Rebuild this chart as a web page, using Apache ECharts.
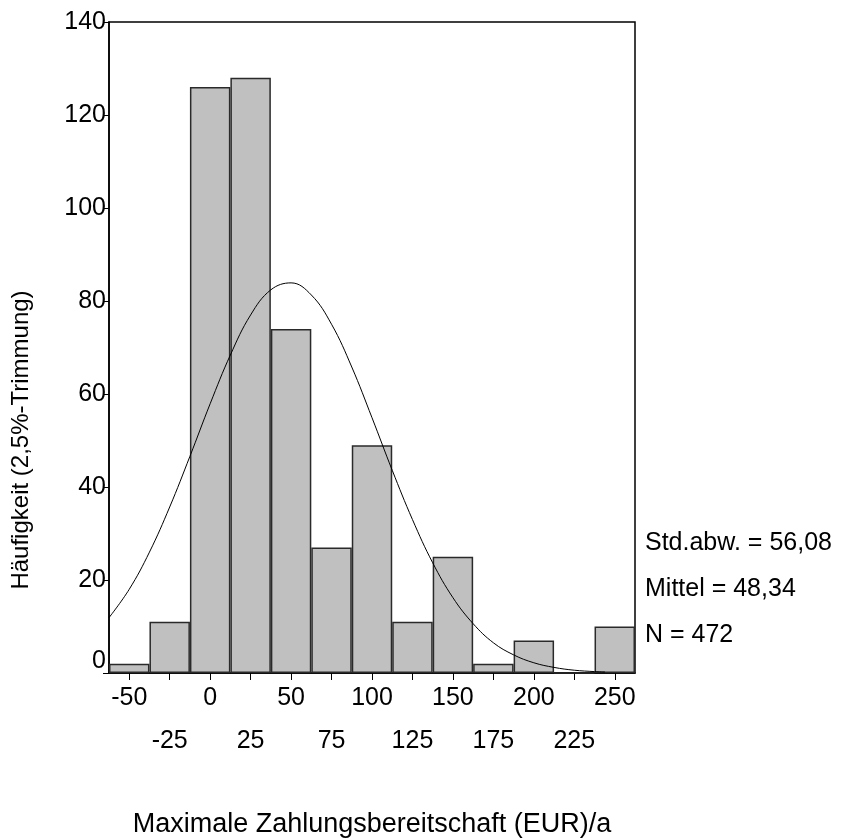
<!DOCTYPE html>
<html><head><meta charset="utf-8">
<script src="https://cdn.jsdelivr.net/npm/echarts@6/dist/echarts.min.js"></script>
<style>html,body{margin:0;padding:0;background:#fff}#c{width:847px;height:839px}</style>
</head><body><div id="c"></div>
<script>
const categories = ['-50','-25','0','25','50','75','100','125','150','175','200','225','250'];
const counts = [2, 11, 126, 128, 74, 27, 49, 11, 25, 2, 7, 0, 10];
const curveX = [-62.5,-50,-37.5,-25,-12.5,0,12.5,25,37.5,50,62.5,75,87.5,100,112.5,125,137.5,150,162.5,175,187.5,200,212.5,225,237.5,244];
const curveY = [11.9,18.0,26.0,35.7,46.6,57.9,68.4,77.0,82.4,83.9,81.3,75.0,65.8,54.9,43.6,33.0,23.7,16.2,10.6,6.5,3.9,2.2,1.2,0.6,0.3,0.2];
const statLines = ['Std.abw. = 56,08', 'Mittel = 48,34', 'N = 472'];
const yTitle = 'Häufigkeit (2,5%-Trimmung)';
const xTitle = 'Maximale Zahlungsbereitschaft (EUR)/a';

const FONT = '"Liberation Sans", Arial, sans-serif';
const FS = 25;
const chart = echarts.init(document.getElementById('c'), null, {renderer: 'canvas'});
const statY = [543, 589, 635];
chart.setOption({
  animation: false,
  backgroundColor: '#fff',
  grid: {left: 109, right: 212, top: 22, bottom: 166, show: true, borderColor: '#000', borderWidth: 1.5, backgroundColor: 'transparent'},
  xAxis: [{
    type: 'category', data: categories, boundaryGap: true,
    axisLine: {show: true, onZero: false, lineStyle: {color: '#000', width: 1.5}},
    axisTick: {show: true, alignWithLabel: true, length: 7, lineStyle: {color: '#000', width: 1}},
    axisLabel: {
      interval: 0, margin: 13, color: '#000', fontFamily: FONT, fontSize: FS,
      formatter: (v, i) => (i % 2 === 0 ? '{a|' + v + '}' : '{b|' + v + '}'),
      rich: {a: {fontFamily: FONT, fontSize: FS, color: '#000'}, b: {fontFamily: FONT, fontSize: FS, color: '#000', padding: [43, 0, 0, 0]}}
    },
    splitLine: {show: false}
  }, {
    type: 'value', min: -62.5, max: 262.5, show: false,
    axisLine: {show: false, onZero: false}, axisTick: {show: false}, axisLabel: {show: false}, splitLine: {show: false}
  }],
  yAxis: {
    type: 'value', min: 0, max: 140, interval: 20,
    axisLine: {show: true, onZero: false, lineStyle: {color: '#000', width: 1.5}},
    axisTick: {show: true, inside: false, length: 6, lineStyle: {color: '#000', width: 1}},
    axisLabel: {
      margin: 3, color: '#000', fontFamily: FONT, fontSize: FS,
      formatter: v => (v === 0 ? '{z|0}' : String(v)),
      rich: {z: {fontFamily: FONT, fontSize: FS, color: '#000', padding: [0, 0, 24, 0]}}
    },
    splitLine: {show: false}
  },
  series: [{
    type: 'bar', data: counts, xAxisIndex: 0, barCategoryGap: '0%', barGap: '0%',
    itemStyle: {color: '#c0c0c0', borderColor: '#2a2a2a', borderWidth: 1.5},
    silent: true
  }, {
    type: 'line', xAxisIndex: 1, data: curveX.map((x, i) => [x, curveY[i]]),
    showSymbol: false, symbol: 'none', smooth: 0.4,
    lineStyle: {color: '#000', width: 1}, silent: true, z: 5
  }],
  graphic: [
    ...statLines.map((t, i) => ({type: 'text', x: 645, y: statY[i], style: {text: t, font: FS + 'px ' + FONT, fill: '#000', align: 'left', verticalAlign: 'middle'}})),
    {type: 'text', x: 21, y: 440, rotation: Math.PI / 2, style: {text: yTitle, font: '24px ' + FONT, fill: '#000', align: 'center', verticalAlign: 'middle'}},
    {type: 'text', x: 372, y: 825, style: {text: xTitle, font: '27px ' + FONT, fill: '#000', align: 'center', verticalAlign: 'middle'}}
  ]
});
</script></body></html>
